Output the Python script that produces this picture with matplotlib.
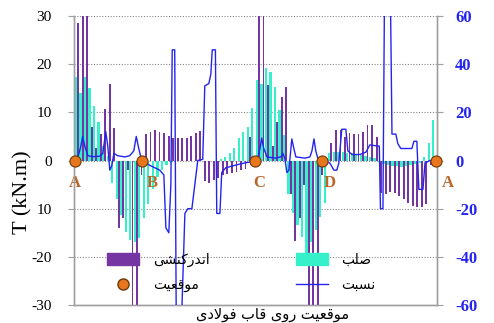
import numpy as np
import matplotlib
matplotlib.use("Agg")
import matplotlib.pyplot as plt
from matplotlib.lines import Line2D
from matplotlib.patches import Patch

# stations along the frame (m): A=0, B, C, D, back to A
station = np.arange(0.1, 16.0, 0.2)
node_x = [0.0, 2.96, 7.96, 10.93, 15.97]
node_names = ["A", "B", "C", "D", "A"]

# interaction model (purple), kN.m
t_inter = [28.5, 35, 35, 7, 2.7, 5.5, 10.8, 16, 6.7, -14, -12, -2, -35, -35, -3,
           5.5, 6, 6.3, 6, 5.7, 5.2, 4.7, 4.6, 4.6, 4.6, 5.2, 5.8, 6.2, -4.2, -4.7,
           -4, -3.6, -3, -2.8, -2.5, -2.3, -2, -1.8, 4.9, -1,
           35, 35, 15.7, 3, 8, 13.2, 15.3, -7, -16.8, -12, -5, -35, -35, -35, -3,
           0, 3.6, 6.3, 6.3, 4.9, 5.7, 5.5, 5.5, 6, 7.3, 7.3, 4.9,
           -6.8, -7, -6.5, -6.8, -7.3, -8, -8.8, -9.4, -9.7, -9.7, -9, -1, -1]

# rigid model (cyan), kN.m
t_rigid = [17.3, 14, 17.3, 15, 11.3, 8, 3, 1, -4.7, -8, -11.3, -14.8, -16.5, -17, -16,
           -12, -9, -6, -3.5, -2, -1, -0.5, 0, 0, 0, 0, 0, 0, 0, 0, 0, 0,
           0.3, 0.8, 1.5, 2.6, 4.6, 6, 7, 11,
           16.7, 16, 19.2, 18.4, 15.3, 10.5, 5.3, -7, -11, -13.4, -15.8, -19.6, -17, -14.4, -11.7,
           -8.8, 1.5, 1.8, 1.8, 1.7, 1.6, 1.5, 1.3, 1.1, 0.9, 0.7, 0.5,
           -0.3, -0.7, -0.9, -1.1, -1.2, -1.3, -1.1, -0.9, -0.7, -0.5, 0.7, 3.6, 8.4]

# ratio (blue line, right axis)
ratio_x = [0.00, 0.13, 0.27, 0.35, 0.44, 0.58, 0.80, 1.11, 1.24, 1.37, 1.46, 1.55, 1.64, 1.73,
           1.90, 2.21, 2.43, 2.61, 2.72, 2.83, 2.96,
           3.32, 3.76, 3.94, 4.03, 4.16, 4.25, 4.31, 4.42, 4.49, 4.71, 4.87, 5.00, 5.18, 5.31,
           5.44, 5.66, 5.75, 5.93, 6.02, 6.08, 6.22, 6.28, 6.42, 6.50, 6.68, 7.08, 7.52, 7.83, 7.96,
           8.10, 8.19, 8.27, 8.36, 8.50, 8.85, 9.12, 9.20, 9.29, 9.38, 9.47, 9.54, 9.60, 9.69,
           9.78, 10.18, 10.40, 10.49, 10.58, 10.66, 10.75, 10.93,
           11.28, 11.46, 11.59, 11.68, 11.81, 11.99, 12.08, 12.26, 12.61, 12.88, 13.05, 13.41,
           13.47, 13.52, 13.63, 13.70, 13.96, 14.03, 14.20, 14.29, 14.42, 14.91, 15.00, 15.13,
           15.22, 15.40, 15.49, 15.71, 15.97]
ratio_y = [0, 1, 6, 10, 6, 2, 1.6, 1.8, 3, 12, 6, -4, -2, 3, 2, 1.5, 2, 4, 10, 5, 0,
           -2, -4, -6, -28, -30, -10, 46, 46, -70, -70, -22, -20, -20, -10, 0, 0.5, 31, 32, 36,
           46, 46, -22, -22, -5, -3, -2, -1, -0.5, 0,
           1, 5, 9.3, 5, 1.5, 1, 1.5, 3, 1, -5, -4, 3, 9, 5, 1.5, 1, 1.5, 4, 9, 4, 1, 0,
           -1, -4, -4, -1, 13, 13, 4, 2.5, 2.5, 3.5, 6.5, 6, 6, -20, -20, 70, 70, 11, 11, 7, 5,
           5, 8, 8, -12, -12, -1, 0, 0]

left_ticks = [-30, -20, -10, 0, 10, 20, 30]
left_labels = ["-30", "-20", "10", "0", "10", "20", "30"]
right_ticks = [-60, -40, -20, 0, 20, 40, 60]

lbl_inter = "اندرکنشی"
lbl_rigid = "صلب"
lbl_ratio = "نسبت"
lbl_node = "موقعیت"
lbl_x = "موقعیت روی قاب فولادی"

# simple arabic/persian shaping (matplotlib has no text shaping)
FORMS = {
    "ا": ("\ufe8d", "\ufe8e", None, None),
    "ب": ("\ufe8f", "\ufe90", "\ufe91", "\ufe92"),
    "ت": ("\ufe95", "\ufe96", "\ufe97", "\ufe98"),
    "د": ("\ufea9", "\ufeaa", None, None),
    "ر": ("\ufead", "\ufeae", None, None),
    "س": ("\ufeb1", "\ufeb2", "\ufeb3", "\ufeb4"),
    "ش": ("\ufeb5", "\ufeb6", "\ufeb7", "\ufeb8"),
    "ص": ("\ufeb9", "\ufeba", "\ufebb", "\ufebc"),
    "ع": ("\ufec9", "\ufeca", "\ufecb", "\ufecc"),
    "ف": ("\ufed1", "\ufed2", "\ufed3", "\ufed4"),
    "ق": ("\ufed5", "\ufed6", "\ufed7", "\ufed8"),
    "ل": ("\ufedd", "\ufede", "\ufedf", "\ufee0"),
    "م": ("\ufee1", "\ufee2", "\ufee3", "\ufee4"),
    "ن": ("\ufee5", "\ufee6", "\ufee7", "\ufee8"),
    "و": ("\ufeed", "\ufeee", None, None),
    "ک": ("\ufb8e", "\ufb8f", "\ufb90", "\ufb91"),
    "ی": ("\ufbfc", "\ufbfd", "\ufbfe", "\ufbff"),
}


def shape(text):
    words = []
    for word in text.split(" "):
        out = []
        i = 0
        while i < len(word):
            c = word[i]
            prev = word[i - 1] if i > 0 else ""
            jp = prev in FORMS and FORMS[prev][2] is not None
            if c == "ل" and i + 1 < len(word) and word[i + 1] == "ا":
                out.append("\ufefc" if jp else "\ufefb")
                i += 2
                continue
            f = FORMS[c]
            nxt = word[i + 1] if i + 1 < len(word) else ""
            jn = f[2] is not None and nxt in FORMS
            if jp and jn:
                out.append(f[3])
            elif jp:
                out.append(f[1])
            elif jn:
                out.append(f[2])
            else:
                out.append(f[0])
            i += 1
        words.append("".join(reversed(out)))
    return " ".join(reversed(words))


purple = "#7535a3"
cyan = "#35f0c8"
blue = "#2424f0"
orange = "#e8761c"
brown = "#b8662a"
gray = "#a0a0a0"

fig = plt.figure(figsize=(4.94, 3.23), dpi=100)
ax = fig.add_axes([0.150, 0.056, 0.735, 0.894])
ax2 = ax.twinx()

ax.bar(station - 0.045, t_rigid, width=0.1, color=cyan, zorder=2)
ax.bar(station + 0.05, t_inter, width=0.08, color=purple, zorder=3)
ax.set_ylim(-30, 30)
ax.set_xlim(-0.03, 16.03)
ax.set_yticks(left_ticks)
ax.set_yticklabels(left_labels, family="Liberation Serif", fontsize=11)
ax.set_xticks([])
ax.grid(axis="y", color="#888888", linestyle=(0, (1, 1.5)), linewidth=0.8, zorder=0)
ax.tick_params(axis="y", direction="out", length=4, color=gray, pad=12)
ax.set_ylabel("T (kN.m)", family="Liberation Serif", fontsize=16)
ax.yaxis.set_label_coords(-0.115, 0.39)

ax2.plot(ratio_x, ratio_y, color=blue, lw=1.0, zorder=4)
ax2.plot(node_x, [0] * len(node_x), "o", color=orange, mec="#6b3a0a", mew=0.8,
         ms=8, zorder=5, clip_on=False)
ax2.set_ylim(-60, 60)
ax2.set_yticks(right_ticks)
ax2.set_yticklabels([str(v) for v in right_ticks], family="Liberation Serif",
                    fontsize=12, fontweight="bold", color=blue)
ax2.tick_params(axis="y", direction="out", length=4, color=gray, pad=9)

for a in (ax, ax2):
    for s in a.spines.values():
        s.set_color(gray)
        s.set_linewidth(1.0)
    a.spines["top"].set_visible(False)

label_dx = [0.0, 0.45, 0.2, 0.35, 0.55]
for x, name, dx in zip(node_x, node_names, label_dx):
    ax.text(x + dx, -4.7, name, color=brown, family="Liberation Serif",
            fontweight="bold", fontsize=12, ha="center", va="center", clip_on=False)

handles = [Patch(color=purple),
           Line2D([], [], ls="", marker="o", color=orange, mec="#6b3a0a", ms=8),
           Patch(color=cyan),
           Line2D([], [], color=blue, lw=1.0)]
labels = [shape(lbl_inter), shape(lbl_node), shape(lbl_rigid), shape(lbl_ratio)]
leg = ax2.legend(handles, labels, ncol=2, frameon=False, loc="upper left",
                 bbox_to_anchor=(0.091, 0.18), borderpad=0, borderaxespad=0,
                 handlelength=2.3, handleheight=0.95, handletextpad=1.0,
                 columnspacing=6.2, labelspacing=0.8,
                 prop={"family": "DejaVu Sans", "size": 10})

fig.text(0.551, 0.004, shape(lbl_x), family="DejaVu Sans", fontsize=10.5,
         ha="center", va="bottom")

fig.savefig("out.png", dpi=100)
